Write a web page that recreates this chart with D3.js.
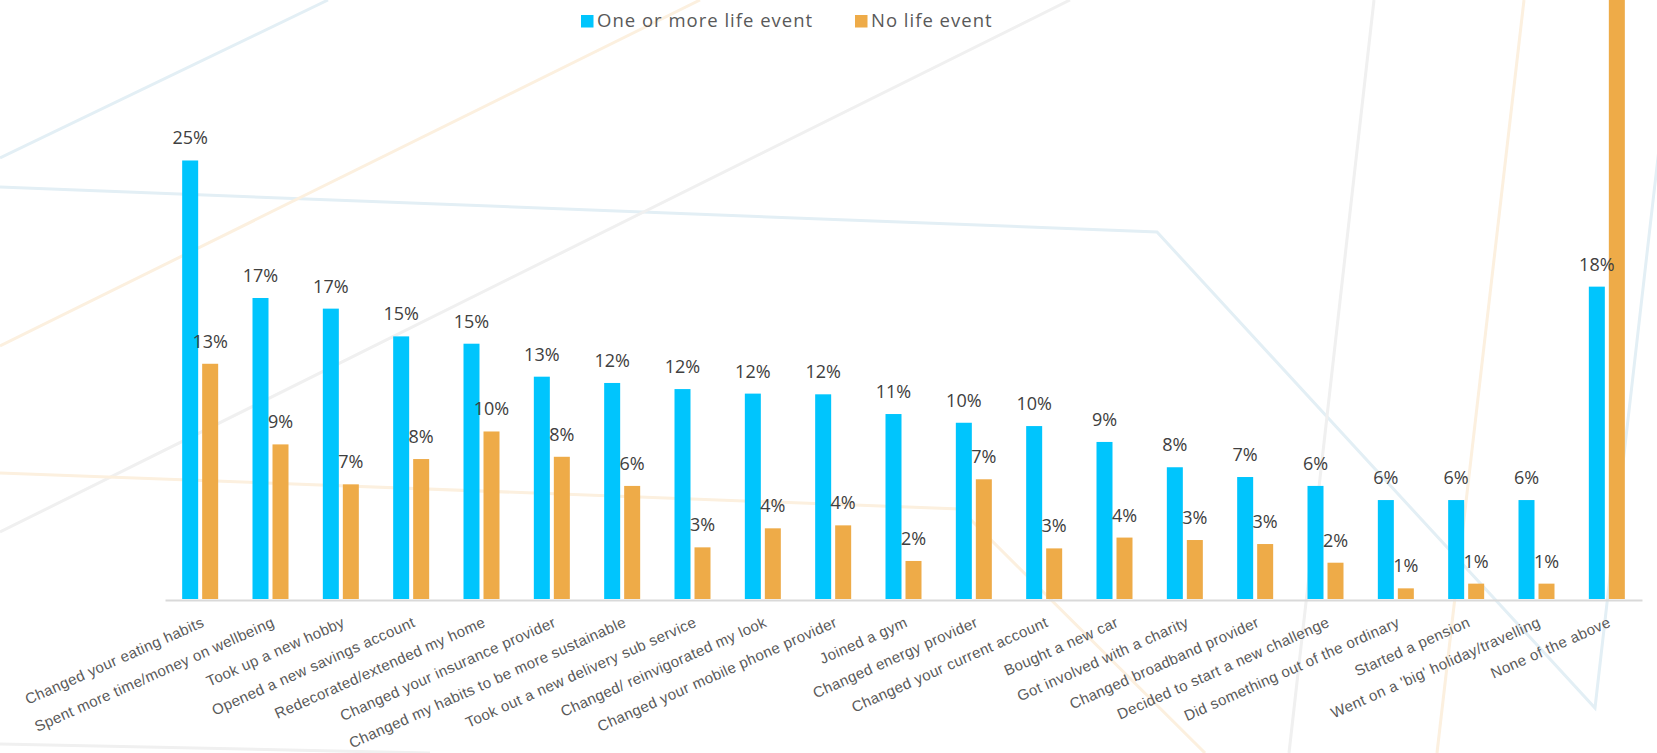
<!DOCTYPE html>
<html>
<head lang="en">
    <meta charset="UTF-8">
    <title>Life events</title>
    <script src="https://cdn.jsdelivr.net/npm/d3@7"></script>
    <style>
        body{margin:0;background:#fff;}
        svg{display:block;font-family:"Open Sans",sans-serif;}
        .deco{fill:none;stroke-width:3px;}
        .val{fill:#404040;font-size:18px;text-anchor:middle;}
        .cat{fill:#595959;font-size:15px;letter-spacing:0.4px;text-anchor:end;}
        .legend text{fill:#595959;font-size:18.5px;letter-spacing:1px;}
    </style>
</head>
<body>
<script>
    // categories along the x axis
    var categories=[
        "Changed your eating habits",
        "Spent more time/money on wellbeing",
        "Took up a new hobby",
        "Opened a new savings account",
        "Redecorated/extended my home",
        "Changed your insurance provider",
        "Changed my habits to be more sustainable",
        "Took out a new delivery sub service",
        "Changed/ reinvigorated my look",
        "Changed your mobile phone provider",
        "Joined a gym",
        "Changed energy provider",
        "Changed your current account",
        "Bought a new car",
        "Got involved with a charity",
        "Changed broadband provider",
        "Decided to start a new challenge",
        "Did something out of the ordinary",
        "Started a pension",
        "Went on a 'big' holiday/travelling",
        "None of the above"
    ];
    var seriesNames=["One or more life event","No life event"];
    // values
    var lifeEvent=[0.2513,0.1725,0.1664,0.1505,0.1463,0.1274,0.1238,0.1203,0.1177,0.1173,0.1060,
        0.1010,0.0991,0.0900,0.0755,0.0699,0.0648,0.0567,0.0567,0.0567,0.1790];
    var noLifeEvent=[0.1348,0.0886,0.0657,0.0802,0.0960,0.0815,0.0648,0.0296,0.0405,0.0422,0.0218,
        0.0686,0.0290,0.0352,0.0338,0.0315,0.0208,0.0061,0.0088,0.0088,0.6000];

    var colors=["#00c5fd","#eeab48"];
    var W=1657,H=753;

    var svg=d3.select("body").append("svg")
            .attr("width",W)
            .attr("height",H);

    // faint background strokes of the slide
    var deco=[
        {c:"#e3eff5",p:[[0,158],[328,0]]},
        {c:"#e3eff5",p:[[0,187],[1157,232],[1595,708],[1676,0]]},
        {c:"#fcf0df",p:[[0,346],[700,0]]},
        {c:"#f0f0f0",p:[[0,532],[1070,0]]},
        {c:"#fcf0df",p:[[0,473],[960,509],[1205,753]]},
        {c:"#fcf0df",p:[[1524,0],[1437,753]]},
        {c:"#f0f0f0",p:[[1374,0],[1289,753]]},
        {c:"#f0f0f0",p:[[0,744],[430,753]]}
    ];
    svg.selectAll("path.deco").data(deco).enter()
            .append("path")
            .attr("class","deco")
            .attr("stroke",function(d){return d.c;})
            .attr("d",function(d){return d3.line()(d.p);});

    var x0=d3.scaleBand()
            .domain(categories)
            .range([165,1642]);
    var x1=d3.scaleBand()
            .domain([0,1])
            .range([x0.bandwidth()/2-18,x0.bandwidth()/2+18])
            .paddingInner(0.2);
    var y=d3.scaleLinear()
            .domain([0,0.30])
            .range([599,599-0.30*1745]);
    var fmt=d3.format(".0%");

    var rows=categories.map(function(c,i){
        return {name:c,vals:[lifeEvent[i],noLifeEvent[i]]};
    });

    var groups=svg.selectAll("g.grp").data(rows).enter()
            .append("g")
            .attr("class","grp")
            .attr("transform",function(d){return "translate("+x0(d.name)+",0)";});

    groups.selectAll("rect").data(function(d){return d.vals;}).enter()
            .append("rect")
            .attr("x",function(d,i){return x1(i);})
            .attr("y",function(d){return Math.max(0,y(d));})
            .attr("width",x1.bandwidth())
            .attr("height",function(d){return y(0)-Math.max(0,y(d));})
            .attr("fill",function(d,i){return colors[i];});

    // labels above the bars (the one that runs off the top is left out, like the slide)
    groups.selectAll("text.val")
            .data(function(d){
                return d.vals.map(function(v,i){return {v:v,i:i};})
                        .filter(function(o){return y(o.v)-30>0;});
            })
            .enter()
            .append("text")
            .attr("class","val")
            .attr("x",function(d){return x1(d.i)+x1.bandwidth()/2;})
            .attr("y",function(d){return y(d.v)-16;})
            .text(function(d){return fmt(d.v);});

    // axis line + rotated category labels
    var xAxis=svg.append("g")
            .attr("transform","translate(0,600)")
            .call(d3.axisBottom(x0).tickSize(0).tickSizeOuter(0));
    xAxis.select(".domain").attr("stroke","#d9d9d9").attr("stroke-width",2);
    xAxis.selectAll(".tick text")
            .attr("class","cat")
            .attr("font-family",null)
            .attr("font-size",null)
            .attr("fill",null)
            .attr("dy",null)
            .attr("y",0)
            .attr("transform","translate(5,26) rotate(-24)");

    // legend
    var legend=svg.append("g").attr("class","legend");
    var lx=[581,855];
    seriesNames.forEach(function(n,i){
        var g=legend.append("g").attr("transform","translate("+lx[i]+",15)");
        g.append("rect").attr("width",12.5).attr("height",12.5).attr("fill",colors[i]);
        g.append("text").attr("x",16).attr("y",12).text(n);
    });
</script>
</body>
</html>
